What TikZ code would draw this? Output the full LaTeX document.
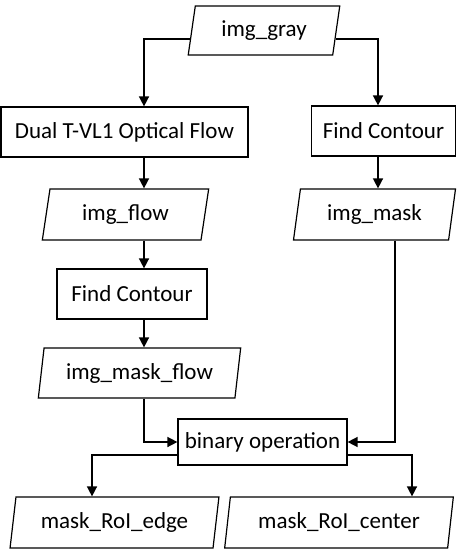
\documentclass[tikz,border=0pt]{standalone}
\usepackage{fontspec}
\setmainfont{Carlito}
\usetikzlibrary{shapes.geometric,arrows.meta,calc}
\begin{document}
\begin{tikzpicture}[x=0.5pt,y=-0.5pt,
  every node/.style={font=\fontsize{11.5}{13}\selectfont, inner sep=0pt},
  proc/.style={draw, line width=0.6pt, rectangle},
  io/.style={draw, line width=0.6pt, trapezium, trapezium left angle=77.5, trapezium right angle=102.5, trapezium stretches=true},
  conn/.style={line width=0.75pt, -{Triangle[length=5pt,width=5pt]}}]
\useasboundingbox (0,0) rectangle (457,550);
\node[io, minimum width=76pt, minimum height=24.5pt] (gray) at (264,30.5) {img\_gray};
\node[proc, minimum width=123.5pt, minimum height=25pt] (dual) at (124.5,132) {Dual T-VL1 Optical Flow};
\node[proc, minimum width=72pt, minimum height=25pt] (fc1) at (383.5,131) {Find Contour};
\node[io, minimum width=83.5pt, minimum height=25.5pt] (flow) at (125.5,214.5) {img\_flow};
\node[io, minimum width=81pt, minimum height=25.5pt] (mask) at (374.5,214.5) {img\_mask};
\node[proc, minimum width=75pt, minimum height=25pt] (fc2) at (132,294) {Find Contour};
\node[io, minimum width=101.5pt, minimum height=25pt] (mflow) at (139.5,373) {img\_mask\_flow};
\node[proc, minimum width=84.5pt, minimum height=23pt] (bin) at (262.5,442) {binary operation};
\node[io, minimum width=104.5pt, minimum height=25.5pt] (edge) at (114.5,522.5) {mask\_RoI\_edge};
\node[io, minimum width=115pt, minimum height=25.5pt] (cent) at (339,522.5) {mask\_RoI\_center};
\coordinate (lc) at (144,0);
\coordinate (rc) at (378,0);
\coordinate (mc) at (395,0);
\coordinate (ec) at (92,0);
\coordinate (cc) at (412,0);
\draw[conn] ($(gray.bottom left corner)!0.33!(gray.top left corner)$) -| (dual.north -| lc);
\draw[conn] ($(gray.bottom right corner)!0.33!(gray.top right corner)$) -| (fc1.north -| rc);
\draw[conn] (dual.south -| lc) -- (flow.north -| lc);
\draw[conn] (fc1.south -| rc) -- (mask.north -| rc);
\draw[conn] (flow.south -| lc) -- (fc2.north -| lc);
\draw[conn] (fc2.south -| lc) -- (mflow.north -| lc);
\draw[conn] (mflow.south -| lc) |- (bin.west);
\draw[conn] (mask.south -| mc) |- (bin.east);
\draw[conn] ([yshift=-6.5pt]bin.west) -| (edge.north -| ec);
\draw[conn] ([yshift=-6.5pt]bin.east) -| (cent.north -| cc);
\end{tikzpicture}
\end{document}
